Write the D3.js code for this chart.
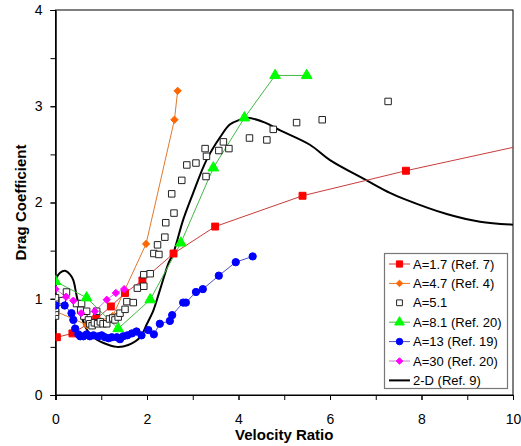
<!DOCTYPE html>
<html><head><meta charset="utf-8">
<script src="https://cdn.jsdelivr.net/npm/d3@7"></script>
<style>
body{margin:0;background:#fff;}
text{font-family:"Liberation Sans",Arial,sans-serif;}
</style></head>
<body><svg id="c" width="521" height="446"></svg>
<script>
// ---- data ----
const xTickValues = [0,2,4,6,8,10];
const yTickValues = [0,1,2,3,4];

const a17 = [[0.03,0.60],[0.37,0.64],[0.89,0.79],[1.21,0.92],[1.52,1.06],[1.90,1.19],[2.58,1.47],[3.49,1.75],[5.40,2.07],[7.66,2.33],[12.0,2.78]];
const a47 = [[0,0.87],[0.68,0.73],[0.97,0.77],[1.25,0.82],[1.98,1.57],[2.60,2.86],[2.67,3.16]];
const a51 = [[0,0.82],[0,0.86],[0,0.90],[0,0.95],[0,0.98],[0,1.01],[0.15,0.98],[0.24,1.07],[0.46,0.95],[0.57,0.95],[0.55,0.88],[0.62,0.82],[0.68,0.87],[0.72,0.78],[0.75,0.74],[0.80,0.72],[0.85,0.75],[0.90,0.87],[0.92,0.74],[0.98,0.76],[1.04,0.74],[1.12,0.74],[1.18,0.79],[1.25,0.80],[1.30,0.78],[1.37,0.81],[1.41,0.85],[1.52,0.89],[1.56,0.97],[1.70,0.96],[1.79,1.11],[1.93,1.13],[1.93,1.25],[2.07,1.26],[2.15,1.47],[2.26,1.46],[2.23,1.56],[2.39,1.64],[2.41,1.79],[2.59,1.89],[2.54,2.09],[2.76,2.23],[2.87,2.39],[3.07,2.41],[3.29,2.27],[3.30,2.48],[3.27,2.56],[3.57,2.54],[3.67,2.63],[3.79,2.56],[4.24,2.67],[4.62,2.65],[4.76,2.76],[5.27,2.83],[5.83,2.86],[7.27,3.05]];
const a81 = [[0,1.18],[0.68,1.01],[1.37,0.69],[2.07,0.99],[2.74,1.58],[3.45,2.36],[4.13,2.88],[4.80,3.32],[5.49,3.32]];
const a13 = [[0,0.93],[0.20,0.93],[0.35,0.85],[0.39,0.78],[0.43,0.69],[0.50,0.63],[0.54,0.61],[0.61,0.61],[0.68,0.63],[0.75,0.61],[0.83,0.62],[0.94,0.61],[1.01,0.62],[1.08,0.60],[1.16,0.59],[1.23,0.60],[1.34,0.60],[1.41,0.58],[1.48,0.61],[1.57,0.62],[1.67,0.64],[1.77,0.66],[1.88,0.62],[2.03,0.675],[2.15,0.63],[2.28,0.74],[2.50,0.77],[2.55,0.83],[2.79,0.96],[2.85,0.96],[3.07,1.07],[3.22,1.10],[3.57,1.24],[3.94,1.38],[4.31,1.44]];
const a30 = [[0,1.10],[0.23,1.02],[0.39,0.98],[0.56,0.85],[0.86,0.87],[1.12,0.99],[1.32,1.06],[1.50,1.10]];
const twoD = [[0,1.20],[0.10,1.27],[0.21,1.29],[0.32,1.25],[0.39,1.19],[0.45,1.06],[0.51,0.92],[0.58,0.80],[0.66,0.70],[0.80,0.61],[1.05,0.54],[1.34,0.50],[1.59,0.52],[1.85,0.60],[2.00,0.74],[2.14,0.88],[2.25,1.04],[2.36,1.21],[2.47,1.37],[2.58,1.48],[2.79,1.82],[3.01,2.10],[3.30,2.44],[3.60,2.68],[3.81,2.81],[4.03,2.86],[4.20,2.88],[4.58,2.83],[4.91,2.75],[5.56,2.60],[6.00,2.44],[6.80,2.23],[7.31,2.10],[7.60,2.04],[8.55,1.88],[9.28,1.80],[10.0,1.77]];

const legendLabels = ["A=1.7 (Ref. 7)","A=4.7 (Ref. 4)","A=5.1","A=8.1 (Ref. 20)","A=13 (Ref. 19)","A=30 (Ref. 20)","2-D (Ref. 9)"];

// ---- layout ----
const L=55.5, R=513, T=10, B=395;
const svg=d3.select("#c");
const x=d3.scaleLinear().domain([0,10]).range([L,R]);
const y=d3.scaleLinear().domain([0,4]).range([B,T]);

svg.append("defs").append("clipPath").attr("id","clip")
  .append("rect").attr("x",L).attr("y",T).attr("width",R-L).attr("height",B-T);

svg.append("rect").attr("x",L).attr("y",T).attr("width",R-L).attr("height",B-T)
  .attr("fill","none").attr("stroke","#000").attr("stroke-width",1);

const xAxisMinor=d3.axisBottom(x).tickValues(d3.range(0,11,1)).tickSize(5).tickFormat("");
const xAxis=d3.axisBottom(x).tickValues(xTickValues).tickSize(5).tickPadding(14).tickFormat(d3.format("d"));
const yAxisMinor=d3.axisLeft(y).tickValues(d3.range(0,4.01,0.5)).tickSize(5).tickFormat("");
const yAxis=d3.axisLeft(y).tickValues(yTickValues).tickSize(5).tickPadding(8).tickFormat(d3.format("d"));
function style(g){g.select(".domain").attr("stroke","#000");g.selectAll("line").attr("stroke","#000");
  g.selectAll("text").attr("font-size","14px").attr("fill","#000").attr("font-family","Liberation Sans, Arial, sans-serif");}
svg.append("g").attr("transform",`translate(0,${B})`).call(xAxisMinor).call(style);
svg.append("g").attr("transform",`translate(0,${B})`).call(xAxis).call(style);
svg.append("g").attr("transform",`translate(${L},0)`).call(yAxisMinor).call(style);
svg.append("g").attr("transform",`translate(${L},0)`).call(yAxis).call(style);

svg.append("text").attr("x",(L+R)/2).attr("y",440).attr("text-anchor","middle")
  .attr("font-size","15px").attr("font-weight","bold").text("Velocity Ratio");
svg.append("text").attr("transform",`translate(26,${(T+B)/2}) rotate(-90)`).attr("text-anchor","middle")
  .attr("font-size","15px").attr("font-weight","bold").text("Drag Coefficient");

const plot=svg.append("g").attr("clip-path","url(#clip)");
const line=d3.line().x(d=>x(d[0])).y(d=>y(d[1]));

plot.append("path").datum(twoD).attr("d",line.curve(d3.curveCatmullRom.alpha(0.5)))
  .attr("fill","none").attr("stroke","#000").attr("stroke-width",2);
line.curve(d3.curveLinear);

const sym=(type,size)=>d3.symbol().type(type).size(size)();
const series=[
  {data:a17,line:"#c83c3c",fill:"#ff0000",stroke:"#ff0000",shape:d3.symbolSquare,size:48},
  {data:a47,line:"#e0782c",fill:"#ff6600",stroke:"#ff6600",shape:d3.symbolDiamond2,size:34},
  {data:a51,line:null,fill:"#fff",stroke:"#222",shape:d3.symbolSquare,size:42},
  {data:a81,line:"#44b844",fill:"#00ff00",stroke:"#00ff00",shape:d3.symbolTriangle,size:50},
  {data:a13,line:"#5050c0",fill:"#0000ff",stroke:"#0000ff",shape:d3.symbolCircle,size:42},
  {data:a30,line:"#c080c8",fill:"#ff00ff",stroke:"#ff00ff",shape:d3.symbolDiamond2,size:34}
];
series.forEach(s=>{
  if(s.line) plot.append("path").datum(s.data).attr("d",line).attr("fill","none").attr("stroke",s.line).attr("stroke-width",1);
});
series.forEach(s=>{
  plot.append("g").selectAll("path").data(s.data).join("path")
    .attr("transform",d=>`translate(${x(d[0])},${y(d[1])})`)
    .attr("d",sym(s.shape,s.size)).attr("fill",s.fill).attr("stroke",s.stroke).attr("stroke-width",1);
});

const lg=svg.append("g");
lg.append("rect").attr("x",384.5).attr("y",253.5).attr("width",123).attr("height",135)
  .attr("fill","#fff").attr("stroke","#777").attr("stroke-width",1.2);
const rowY=i=>264+i*19.4;
const legendStyles=[...series.map(s=>s),{line:"#000",shape:null,lw:2}];
legendLabels.forEach((lab,i)=>{
  const s=legendStyles[i]; const cy=rowY(i);
  if(s.line) lg.append("line").attr("x1",389).attr("x2",410).attr("y1",cy).attr("y2",cy)
    .attr("stroke",s.line).attr("stroke-width",s.lw||1);
  if(s.shape) lg.append("path").attr("transform",`translate(399.5,${cy})`).attr("d",sym(s.shape,s.size*0.8))
    .attr("fill",s.fill).attr("stroke",s.stroke);
  lg.append("text").attr("x",413).attr("y",cy).attr("dy","0.35em").attr("font-size","13px").text(lab);
});
</script></body></html>
